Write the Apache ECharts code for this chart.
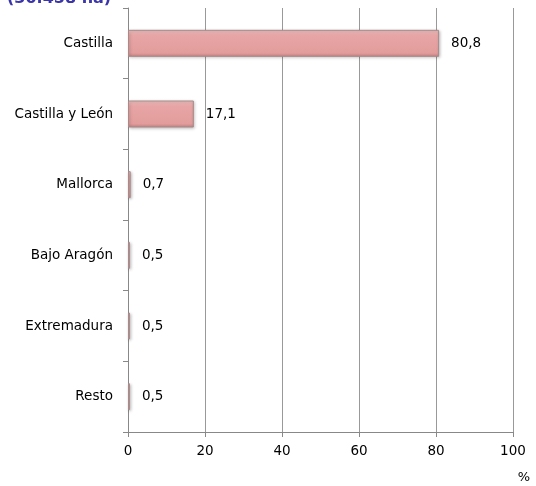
<!DOCTYPE html>
<html>
<head>
<meta charset="utf-8">
<script src="https://cdn.jsdelivr.net/npm/echarts@6/dist/echarts.min.js"></script>
<style>html,body{margin:0;padding:0;background:#fff}#c{width:536px;height:486px}</style>
</head>
<body>
<div id="c"></div>
<script>
const categories = ['Castilla', 'Castilla y León', 'Mallorca', 'Bajo Aragón', 'Extremadura', 'Resto'];
const values = [80.8, 17.1, 0.7, 0.5, 0.5, 0.5];
const xTicks = [0, 20, 40, 60, 80, 100];
const titleText = '(30.458 ha)';
const unitText = '%';

const chart = echarts.init(document.getElementById('c'), null, {renderer: 'canvas'});
const font = 'DejaVu Sans';
chart.setOption({
  animation: false,
  backgroundColor: '#fff',
  title: {
    text: titleText, left: 2, top: -14,
    textStyle: {color: '#3a35a8', fontSize: 16, fontWeight: 'bold', fontFamily: font}
  },
  graphic: [{
    type: 'text', right: 6, top: 471,
    style: {text: unitText, fill: '#000', font: '13px "DejaVu Sans"'}
  }],
  grid: {left: 128, right: 23, top: 8, bottom: 54, containLabel: false},
  xAxis: {
    type: 'value', min: xTicks[0], max: xTicks[xTicks.length - 1], interval: 20,
    axisLine: {show: true, lineStyle: {color: '#888', width: 1}},
    axisTick: {show: true, length: 5, lineStyle: {color: '#888'}},
    splitLine: {show: true, lineStyle: {color: '#999', width: 1}},
    axisLabel: {color: '#000', fontSize: 13.5, fontFamily: font, margin: 12}
  },
  yAxis: {
    type: 'category', data: categories, inverse: true,
    axisLine: {show: true, lineStyle: {color: '#888', width: 1}},
    axisTick: {show: true, length: 5, lineStyle: {color: '#888'}},
    axisLabel: {color: '#000', fontSize: 13.5, fontFamily: font, margin: 15}
  },
  series: [{
    type: 'bar', data: values, barWidth: 27,
    itemStyle: {
      color: new echarts.graphic.LinearGradient(0, 0, 0, 1, [
        {offset: 0, color: '#f2c3c3'},
        {offset: 0.2, color: '#e8a5a5'},
        {offset: 0.85, color: '#e29c9c'},
        {offset: 1, color: '#c98585'}
      ]),
      borderColor: '#a88a8a', borderWidth: 1,
      shadowColor: 'rgba(0,0,0,0.25)', shadowBlur: 3, shadowOffsetX: 1, shadowOffsetY: 1
    },
    label: {
      show: true, position: 'right', distance: 12, color: '#000',
      fontSize: 13.5, fontFamily: font,
      formatter: p => p.value.toFixed(1).replace('.', ',')
    }
  }]
});
</script>
</body>
</html>
